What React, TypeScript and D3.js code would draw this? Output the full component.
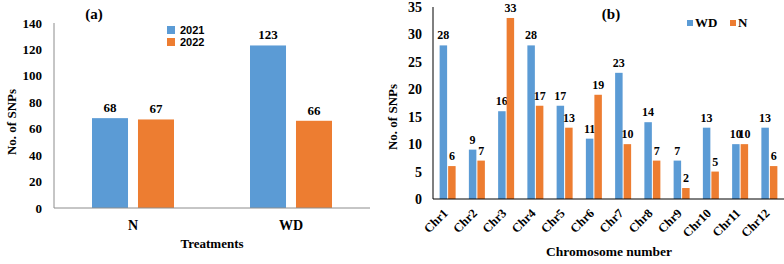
import React from "react";
import * as d3 from "d3";

const treatments = ["N", "WD"];
const years = ["2021", "2022"];
const snp2021 = [68, 123];
const snp2022 = [67, 66];
const aTicks = [0, 20, 40, 60, 80, 100, 120, 140];

const chromosomes = ["Chr1", "Chr2", "Chr3", "Chr4", "Chr5", "Chr6", "Chr7", "Chr8", "Chr9", "Chr10", "Chr11", "Chr12"];
const seriesB = ["WD", "N"];
const wdValues = [28, 9, 16, 28, 17, 11, 23, 14, 7, 13, 10, 13];
const nValues = [6, 7, 33, 17, 13, 19, 10, 7, 2, 5, 10, 6];
const bTicks = [0, 5, 10, 15, 20, 25, 30, 35];

const BLUE = "#5B9BD5";
const ORANGE = "#ED7D31";
const SERIF = "'Liberation Serif', 'Times New Roman', serif";
const SANS = "'Liberation Sans', Arial, sans-serif";

export default function App() {
  // Panel (a)
  const ax = d3.scaleBand().domain(treatments).range([54, 370]);
  const ay = d3.scaleLinear().domain([0, 140]).range([208, 23]);
  const aInner = d3.scaleBand().domain(years).range([0, 82]).paddingInner(0.217);
  const aData = [snp2021, snp2022];
  const aColors = [BLUE, ORANGE];

  // Panel (b)
  const bx = d3.scaleBand().domain(chromosomes).range([433, 784]);
  const by = d3.scaleLinear().domain([0, 35]).range([199, 7]);
  const bInner = d3.scaleBand().domain(seriesB).range([0, 16]).paddingInner(0.12);
  const bData = [wdValues, nValues];

  return (
    <svg width={784} height={264} style={{ position: "absolute", left: 0, top: 0, background: "#fff" }}>
      {/* ---------- Panel (a) ---------- */}
      <text x={94} y={19} fontFamily={SERIF} fontWeight="bold" fontSize={15} textAnchor="middle">(a)</text>
      {aTicks.map((t) => (
        <text key={t} x={42} y={ay(t) + 4.5} fontFamily={SERIF} fontWeight="bold" fontSize={13} textAnchor="end">{t}</text>
      ))}
      {treatments.map((c, i) =>
        years.map((yr, s) => {
          const v = aData[s][i];
          const x0 = (ax(c) as number) + ax.bandwidth() / 2 - 41 + (aInner(yr) as number);
          return (
            <g key={c + yr}>
              <rect x={x0} y={ay(v)} width={aInner.bandwidth()} height={ay(0) - ay(v)} fill={aColors[s]} />
              <text x={x0 + aInner.bandwidth() / 2} y={ay(v) - 6} fontFamily={SERIF} fontWeight="bold" fontSize={13} textAnchor="middle">{v}</text>
            </g>
          );
        })
      )}
      <line x1={54} x2={54} y1={23} y2={208} stroke="#8c8c8c" strokeWidth={1} />
      <line x1={54} x2={370} y1={208} y2={208} stroke="#8c8c8c" strokeWidth={1} />
      {treatments.map((c) => (
        <text key={c} x={(ax(c) as number) + ax.bandwidth() / 2} y={230} fontFamily={SERIF} fontWeight="bold" fontSize={14} textAnchor="middle">{c}</text>
      ))}
      <text x={212} y={248} fontFamily={SERIF} fontWeight="bold" fontSize={13} textAnchor="middle">Treatments</text>
      <text transform="translate(16,122) rotate(-90)" fontFamily={SERIF} fontWeight="bold" fontSize={13} textAnchor="middle">No. of SNPs</text>
      {years.map((yr, s) => (
        <g key={yr}>
          <rect x={167} y={26 + s * 12} width={8} height={8} fill={aColors[s]} />
          <text x={180} y={33.5 + s * 12} fontFamily={SANS} fontWeight="bold" fontSize={11}>{yr}</text>
        </g>
      ))}

      {/* ---------- Panel (b) ---------- */}
      <text x={611} y={19} fontFamily={SERIF} fontWeight="bold" fontSize={15} textAnchor="middle">(b)</text>
      {bTicks.map((t) => (
        <text key={t} x={422} y={by(t) + 5} fontFamily={SERIF} fontWeight="bold" fontSize={14} textAnchor="end">{t}</text>
      ))}
      {chromosomes.map((c, i) =>
        seriesB.map((sr, s) => {
          const v = bData[s][i];
          const x0 = (bx(c) as number) + bx.bandwidth() / 2 - 8 + (bInner(sr) as number);
          return (
            <g key={c + sr}>
              <rect x={x0} y={by(v)} width={bInner.bandwidth()} height={by(0) - by(v)} fill={aColors[s]} />
              <text x={x0 + bInner.bandwidth() / 2} y={by(v) - 6} fontFamily={SERIF} fontWeight="bold" fontSize={12} textAnchor="middle">{v}</text>
            </g>
          );
        })
      )}
      <line x1={433} x2={433} y1={7} y2={199} stroke="#000" strokeWidth={1} />
      <line x1={433} x2={784} y1={199} y2={199} stroke="#000" strokeWidth={1} />
      {chromosomes.map((c) => {
        const cx = (bx(c) as number) + bx.bandwidth() / 2 + 1;
        return (
          <text key={c} transform={`translate(${cx},${214}) rotate(-45)`} fontFamily={SERIF} fontWeight="bold" fontSize={12.5} textAnchor="end">{c}</text>
        );
      })}
      <text x={609} y={256} fontFamily={SERIF} fontWeight="bold" fontSize={13.5} textAnchor="middle">Chromosome number</text>
      <text transform="translate(397,117) rotate(-90)" fontFamily={SERIF} fontWeight="bold" fontSize={13} textAnchor="middle">No. of SNPs</text>
      {seriesB.map((sr, s) => (
        <g key={sr}>
          <rect x={687 + s * 43} y={20} width={6} height={6} fill={aColors[s]} />
          <text x={695 + s * 43} y={27} fontFamily={SERIF} fontWeight="bold" fontSize={13}>{sr}</text>
        </g>
      ))}
    </svg>
  );
}
